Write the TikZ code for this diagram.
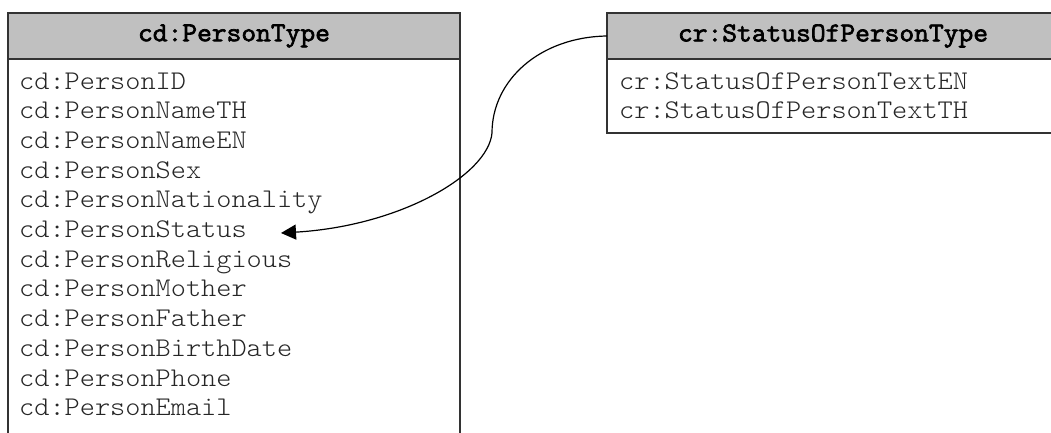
\documentclass[tikz,border=0pt]{standalone}
\usepackage{fontspec}
\newfontfamily\courfont{Latin Modern Mono Light}[FakeStretch=1.07]
\newfontfamily\courbold{Latin Modern Mono}[FakeStretch=1.05,FakeBold=2.5]
\usetikzlibrary{arrows.meta}
\definecolor{hdrgray}{HTML}{C0C0C0}
\definecolor{edge}{HTML}{333333}
\begin{document}
\begin{tikzpicture}[x=1pt,y=-1pt,
  hdr/.style={draw=edge, line width=1.6pt, fill=hdrgray, inner sep=0pt, outer sep=0pt,
    font=\courbold\fontsize{27.3}{30}\selectfont, text=black},
  bodybox/.style={draw=edge, line width=1.6pt, fill=white, inner sep=0pt, outer sep=0pt, anchor=north west},
  attr/.style={anchor=base west, inner sep=0pt, font=\courfont\fontsize{27}{30}\selectfont, text=black!85},
  link/.style={line width=1.2pt, -{Triangle[length=15pt,width=15pt]}}
]
\useasboundingbox (0,0) rectangle (1051,432);
\clip (0,0) rectangle (1051,432);
\fill[white] (0,0) rectangle (1051,432);
% left class
\node[bodybox, minimum width=452pt, minimum height=420pt] (pbody) at (8,59) {};
\node[hdr, minimum width=452pt, minimum height=46pt] (phdr) at (234,36) {cd:PersonType};
\foreach \t [count=\i from 0] in {PersonID,PersonNameTH,PersonNameEN,PersonSex,PersonNationality,PersonStatus,PersonReligious,PersonMother,PersonFather,PersonBirthDate,PersonPhone,PersonEmail}{
  \node[attr] (a\i) at (19,{89+29.7*\i}) {cd:\t};
}
% right class
\node[bodybox, minimum width=460pt, minimum height=74pt] (sbody) at (607,59) {};
\node[hdr, minimum width=460pt, minimum height=46pt, anchor=north west] (shdr) at (607,13) {\hspace*{-8pt}cr:StatusOfPersonType};
\node[attr] (s0) at (619,89) {cr:StatusOfPersonTextEN};
\node[attr] (s1) at (619,118.7) {cr:StatusOfPersonTextTH};
% connector
\coordinate (bend) at (492,133);
\coordinate (tip) at (281,233);
\draw[link] (shdr.west) .. controls (540,37) and (492,80) .. (bend)
  .. controls (488,175) and (400,226) .. (tip);
\end{tikzpicture}
\end{document}
